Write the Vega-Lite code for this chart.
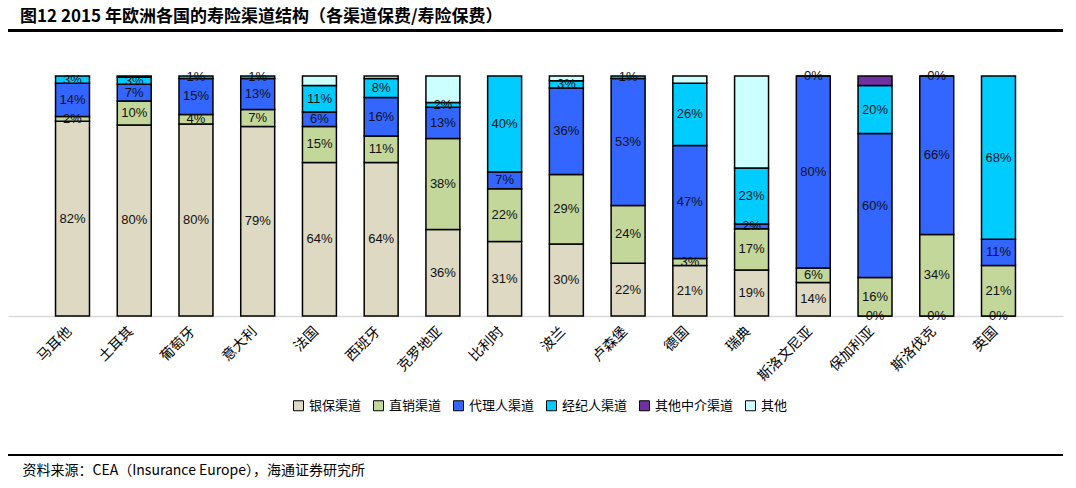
{
  "$schema": "https://vega.github.io/schema/vega-lite/v6.json",
  "width": 1055,
  "height": 240,
  "autosize": "none",
  "padding": {"left": 8, "top": 76, "right": 13, "bottom": 172},
  "background": "white",
  "config": {
    "view": {"stroke": null},
    "font": "Noto Sans CJK SC"
  },
  "title": {
    "text": "图12  2015 年欧洲各国的寿险渠道结构（各渠道保费/寿险保费）",
    "anchor": "start",
    "frame": "group",
    "baseline": "bottom",
    "fontSize": 17,
    "fontWeight": "bold",
    "font": "Noto Sans CJK SC",
    "color": "black",
    "dx": 12,
    "dy": 19,
    "offset": 6
  },
  "data": {
    "values": [
      {"country": "马耳他", "channel": "银保渠道", "value": 82},
      {"country": "马耳他", "channel": "直销渠道", "value": 2},
      {"country": "马耳他", "channel": "代理人渠道", "value": 14},
      {"country": "马耳他", "channel": "经纪人渠道", "value": 3},
      {"country": "土耳其", "channel": "银保渠道", "value": 80},
      {"country": "土耳其", "channel": "直销渠道", "value": 10},
      {"country": "土耳其", "channel": "代理人渠道", "value": 7},
      {"country": "土耳其", "channel": "经纪人渠道", "value": 3},
      {"country": "土耳其", "channel": "其他中介渠道", "value": 0.5},
      {"country": "葡萄牙", "channel": "银保渠道", "value": 80},
      {"country": "葡萄牙", "channel": "直销渠道", "value": 4},
      {"country": "葡萄牙", "channel": "代理人渠道", "value": 15},
      {"country": "葡萄牙", "channel": "经纪人渠道", "value": 1},
      {"country": "意大利", "channel": "银保渠道", "value": 79},
      {"country": "意大利", "channel": "直销渠道", "value": 7},
      {"country": "意大利", "channel": "代理人渠道", "value": 13},
      {"country": "意大利", "channel": "经纪人渠道", "value": 1},
      {"country": "法国", "channel": "银保渠道", "value": 64},
      {"country": "法国", "channel": "直销渠道", "value": 15},
      {"country": "法国", "channel": "代理人渠道", "value": 6},
      {"country": "法国", "channel": "经纪人渠道", "value": 11},
      {"country": "法国", "channel": "其他", "value": 4},
      {"country": "西班牙", "channel": "银保渠道", "value": 64},
      {"country": "西班牙", "channel": "直销渠道", "value": 11},
      {"country": "西班牙", "channel": "代理人渠道", "value": 16},
      {"country": "西班牙", "channel": "经纪人渠道", "value": 8},
      {"country": "西班牙", "channel": "其他", "value": 1},
      {"country": "克罗地亚", "channel": "银保渠道", "value": 36},
      {"country": "克罗地亚", "channel": "直销渠道", "value": 38},
      {"country": "克罗地亚", "channel": "代理人渠道", "value": 13},
      {"country": "克罗地亚", "channel": "经纪人渠道", "value": 2},
      {"country": "克罗地亚", "channel": "其他", "value": 11},
      {"country": "比利时", "channel": "银保渠道", "value": 31},
      {"country": "比利时", "channel": "直销渠道", "value": 22},
      {"country": "比利时", "channel": "代理人渠道", "value": 7},
      {"country": "比利时", "channel": "经纪人渠道", "value": 40},
      {"country": "波兰", "channel": "银保渠道", "value": 30},
      {"country": "波兰", "channel": "直销渠道", "value": 29},
      {"country": "波兰", "channel": "代理人渠道", "value": 36},
      {"country": "波兰", "channel": "经纪人渠道", "value": 3},
      {"country": "波兰", "channel": "其他", "value": 2},
      {"country": "卢森堡", "channel": "银保渠道", "value": 22},
      {"country": "卢森堡", "channel": "直销渠道", "value": 24},
      {"country": "卢森堡", "channel": "代理人渠道", "value": 53},
      {"country": "卢森堡", "channel": "经纪人渠道", "value": 1},
      {"country": "德国", "channel": "银保渠道", "value": 21},
      {"country": "德国", "channel": "直销渠道", "value": 3},
      {"country": "德国", "channel": "代理人渠道", "value": 47},
      {"country": "德国", "channel": "经纪人渠道", "value": 26},
      {"country": "德国", "channel": "其他", "value": 3},
      {"country": "瑞典", "channel": "银保渠道", "value": 19},
      {"country": "瑞典", "channel": "直销渠道", "value": 17},
      {"country": "瑞典", "channel": "代理人渠道", "value": 2},
      {"country": "瑞典", "channel": "经纪人渠道", "value": 23},
      {"country": "瑞典", "channel": "其他", "value": 38},
      {"country": "斯洛文尼亚", "channel": "银保渠道", "value": 14},
      {"country": "斯洛文尼亚", "channel": "直销渠道", "value": 6},
      {"country": "斯洛文尼亚", "channel": "代理人渠道", "value": 80},
      {"country": "斯洛文尼亚", "channel": "经纪人渠道", "value": 0},
      {"country": "保加利亚", "channel": "银保渠道", "value": 0},
      {"country": "保加利亚", "channel": "直销渠道", "value": 16},
      {"country": "保加利亚", "channel": "代理人渠道", "value": 60},
      {"country": "保加利亚", "channel": "经纪人渠道", "value": 20},
      {"country": "保加利亚", "channel": "其他中介渠道", "value": 4},
      {"country": "斯洛伐克", "channel": "银保渠道", "value": 0},
      {"country": "斯洛伐克", "channel": "直销渠道", "value": 34},
      {"country": "斯洛伐克", "channel": "代理人渠道", "value": 66},
      {"country": "斯洛伐克", "channel": "经纪人渠道", "value": 0},
      {"country": "英国", "channel": "银保渠道", "value": 0},
      {"country": "英国", "channel": "直销渠道", "value": 21},
      {"country": "英国", "channel": "代理人渠道", "value": 11},
      {"country": "英国", "channel": "经纪人渠道", "value": 68}
    ]
  },
  "transform": [
    {"calculate": "indexof(['银保渠道','直销渠道','代理人渠道','经纪人渠道','其他中介渠道','其他'], datum.channel)", "as": "ord"},
    {"stack": "value", "groupby": ["country"], "sort": [{"field": "ord", "order": "ascending"}], "as": ["v0", "v1"], "offset": "normalize"},
    {"calculate": "(datum.v0 + datum.v1) / 2", "as": "mid"},
    {"calculate": "datum.ord < 4 ? datum.value + '%' : ''", "as": "label"}
  ],
  "layer": [
    {
      "mark": {"type": "bar", "stroke": "black", "strokeWidth": 1.5},
      "encoding": {
        "x": {
          "field": "country",
          "type": "nominal",
          "sort": null,
          "scale": {"paddingInner": 0.45, "paddingOuter": 0.77},
          "axis": {
            "title": "资料来源：CEA（Insurance Europe），海通证券研究所",
            "titleFont": "Noto Sans CJK SC",
            "titleFontSize": 14,
            "titleFontWeight": "normal",
            "titleColor": "black",
            "titleAlign": "left",
            "titleBaseline": "middle",
            "titleX": 14,
            "titleY": 154,
            "labelAngle": -45,
            "labelAlign": "right",
            "labelBaseline": "middle",
            "labelFont": "Noto Sans CJK SC",
            "labelFontSize": 14,
            "labelColor": "black",
            "labelPadding": 13,
            "labelOffset": -3,
            "ticks": false,
            "domainColor": "#d9d9d9",
            "domainWidth": 1.5
          }
        },
        "y": {"field": "v0", "type": "quantitative", "scale": {"domain": [0, 1]}, "axis": null},
        "y2": {"field": "v1"},
        "color": {
          "field": "channel",
          "type": "nominal",
          "scale": {
            "domain": ["银保渠道", "直销渠道", "代理人渠道", "经纪人渠道", "其他中介渠道", "其他"],
            "range": ["#DDD9C3", "#C4D79B", "#3366FF", "#00CCFF", "#7030A0", "#CCFFFF"]
          },
          "legend": {
            "title": null,
            "orient": "none",
            "direction": "horizontal",
            "columns": 6,
            "legendX": 284,
            "legendY": 323,
            "padding": 0,
            "symbolType": "square",
            "symbolSize": 100,
            "symbolStrokeColor": "black",
            "symbolStrokeWidth": 1,
            "symbolOpacity": 1,
            "labelFont": "Noto Sans CJK SC",
            "labelFontSize": 13,
            "labelColor": "black",
            "labelOffset": 4,
            "columnPadding": 9
          }
        }
      }
    },
    {
      "mark": {"type": "text", "font": "Liberation Sans", "fontSize": 13, "color": "#111111", "baseline": "middle"},
      "encoding": {
        "x": {"field": "country", "type": "nominal", "sort": null},
        "y": {"field": "mid", "type": "quantitative"},
        "text": {"field": "label"}
      }
    },
    {
      "mark": {"type": "rule", "color": "black", "strokeWidth": 1.5, "clip": false},
      "encoding": {"y": {"datum": 1.19}}
    },
    {
      "mark": {"type": "rule", "color": "black", "strokeWidth": 1.5, "clip": false},
      "encoding": {"y": {"datum": -0.58}}
    }
  ]
}
